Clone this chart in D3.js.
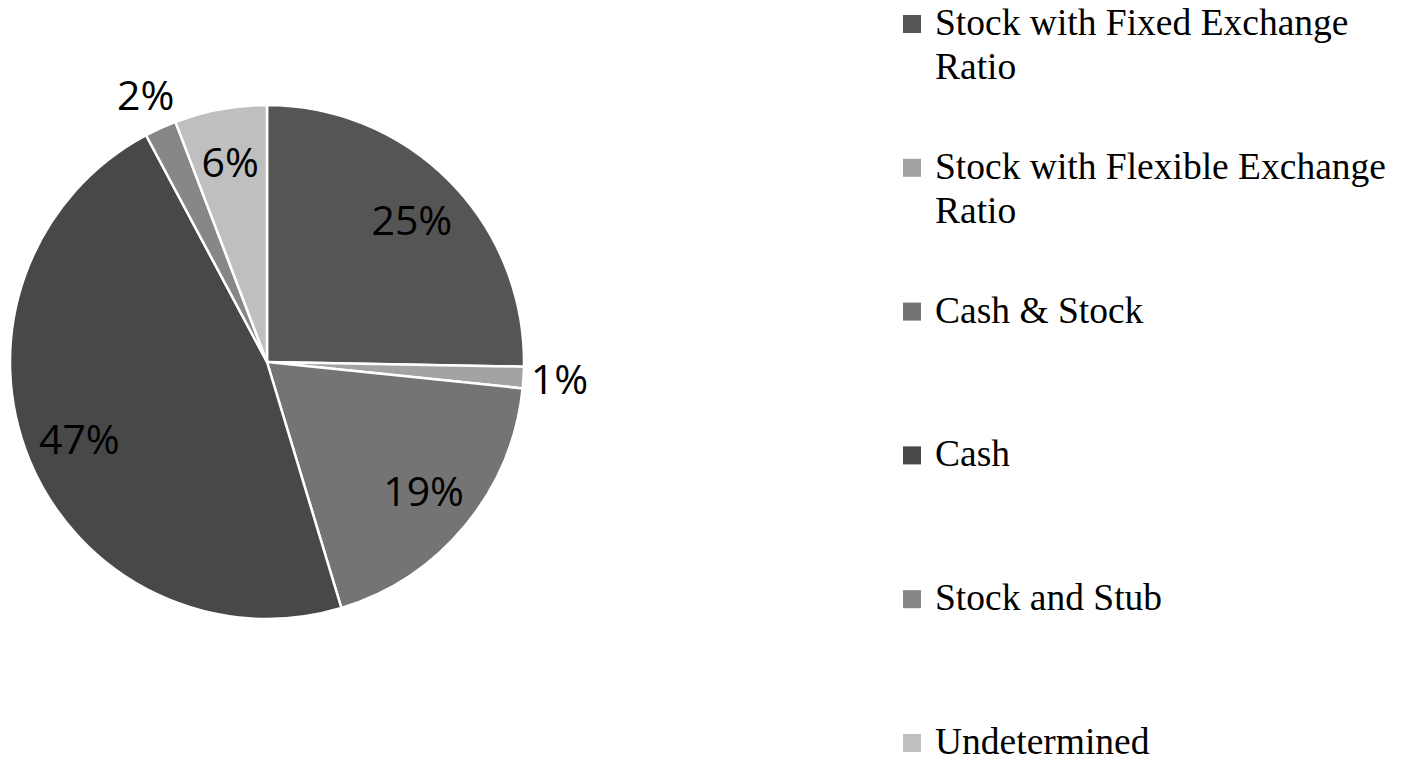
<!DOCTYPE html>
<html>
<head>
<meta charset="utf-8">
<script src="https://cdn.jsdelivr.net/npm/d3@7"></script>
<style>
  body { margin: 0; background: #fff; }
  .slice-label { font-family: "Open Sans", sans-serif; font-size: 41px; fill: #000; }
  .legend text { font-family: "Liberation Serif", serif; font-size: 37.5px; fill: #000; }
</style>
</head>
<body>
<svg width="1405" height="764"></svg>
<script>
/* the deal types, in the order the slices run clockwise from 12 o'clock */
var categories = ["Stock with Fixed Exchange Ratio", "Stock with Flexible Exchange Ratio",
                  "Cash & Stock", "Cash", "Stock and Stub", "Undetermined"];
/* share of deals, percent */
var shares = [25.3, 1.35, 18.7, 46.9, 2.0, 5.8];
/* the printed labels */
var shareLabels = ["25%", "1%", "19%", "47%", "2%", "6%"];
/* legend wraps its long names on two lines */
var legendLines = [["Stock with Fixed Exchange", "Ratio"], ["Stock with Flexible Exchange", "Ratio"],
                   ["Cash & Stock"], ["Cash"], ["Stock and Stub"], ["Undetermined"]];
var greys = ["#555555", "#a3a3a3", "#747474", "#484848", "#878787", "#bfbfbf"];

var svg = d3.select("svg"),
    cx = 267, cy = 362, radius = 257;

var data = categories.map(function(c, i) {
  return {name: c, value: shares[i], label: shareLabels[i], lines: legendLines[i]};
});

var color = d3.scaleOrdinal().domain(categories).range(greys);

/* no sorting: keep the slices in data order */
var pie = d3.pie().sort(null).value(function(d) { return d.value; });
var arc = d3.arc().innerRadius(0).outerRadius(radius);
var insideArc = d3.arc().innerRadius(radius * 0.79).outerRadius(radius * 0.79);
var outsideArc = d3.arc().innerRadius(radius * 1.14).outerRadius(radius * 1.14);

var g = svg.append("g")
    .attr("transform", "translate(" + cx + "," + cy + ")");

var arcs = pie(data);

g.selectAll(".slice")
  .data(arcs)
  .enter().append("path")
    .attr("class", "slice")
    .attr("d", arc)
    .attr("fill", function(d) { return color(d.data.name); })
    .attr("stroke", "#fff")
    .attr("stroke-width", 2.5)
    .attr("stroke-linejoin", "round");

/* small slices get their label outside the pie */
g.selectAll(".slice-label")
  .data(arcs)
  .enter().append("text")
    .attr("class", "slice-label")
    .attr("transform", function(d) {
      var a = d.data.value < 3 ? outsideArc : insideArc;
      return "translate(" + a.centroid(d) + ")";
    })
    .attr("text-anchor", "middle")
    .attr("dy", "0.36em")
    .text(function(d) { return d.data.label; });

/* legend on the right, evenly spaced rows */
var legendY = d3.scalePoint().domain(categories).range([24, 743]);

var legend = svg.append("g")
    .attr("class", "legend")
    .attr("transform", "translate(903,0)");

var row = legend.selectAll(".row")
  .data(data)
  .enter().append("g")
    .attr("class", "row")
    .attr("transform", function(d) { return "translate(0," + legendY(d.name) + ")"; });

row.append("rect")
    .attr("x", 0)
    .attr("y", -9)
    .attr("width", 18)
    .attr("height", 18)
    .attr("fill", function(d) { return color(d.name); });

row.append("text")
    .attr("x", 32)
    .attr("y", 11)
  .selectAll("tspan")
  .data(function(d) { return d.lines; })
  .enter().append("tspan")
    .attr("x", 32)
    .attr("dy", function(d, i) { return i ? 44 : 0; })
    .text(function(d) { return d; });
</script>
</body>
</html>
